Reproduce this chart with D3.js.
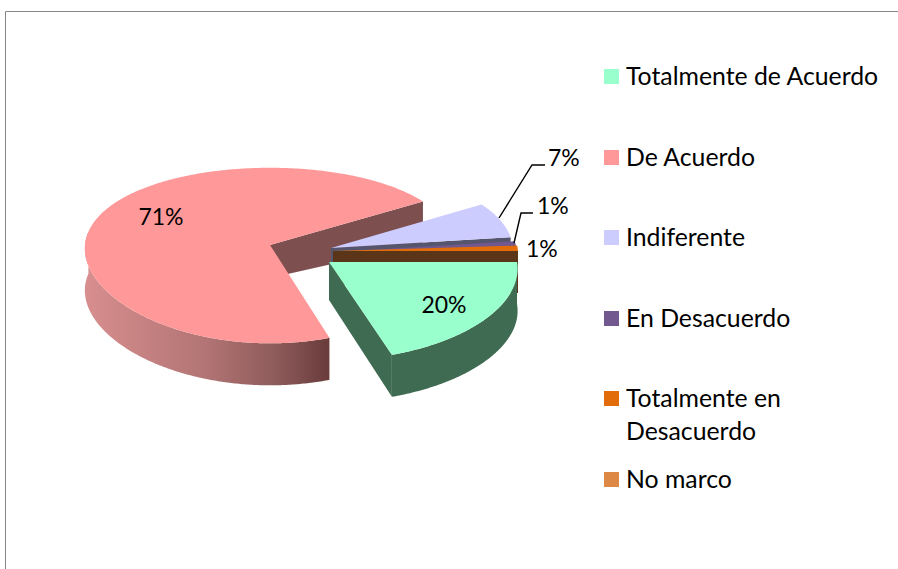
<!DOCTYPE html>
<html><head><meta charset="utf-8">
<script src="https://cdn.jsdelivr.net/npm/d3@7/dist/d3.min.js"></script>
<style>html,body{margin:0;padding:0;background:#fff}svg{display:block}text{font-family:Lato,sans-serif;fill:#000}.lg{font-size:24.8px}.dl{font-size:23px}</style>
</head><body>
<script>
const categories = ["Totalmente de Acuerdo","De Acuerdo","Indiferente","En Desacuerdo","Totalmente en Desacuerdo","No marco"];
const values = [20,71,7,1,1,0];
const colors = ["#99ffcc","#ff9999","#ccccff","#71588f","#e36c0a","#dd8844"];
const wallColors = ["#3f6b52","#7d4f4f","#55556e","#2e2a55","#5a3518","#5a3518"];
const legendLines = [["Totalmente de Acuerdo"],["De Acuerdo"],["Indiferente"],["En Desacuerdo"],["Totalmente en","Desacuerdo"],["No marco"]];

const W = 898, H = 569;
const svg = d3.select("body").append("svg").attr("width",W).attr("height",H);
const defs = svg.append("defs");
const grad = defs.append("linearGradient").attr("id","redSide").attr("gradientUnits","userSpaceOnUse")
  .attr("x1",85).attr("x2",328).attr("y1",0).attr("y2",0);
[[0,"#d88e8e"],[0.5,"#b27474"],[0.8,"#8c5959"],[1,"#6a3c3c"]].forEach(s=>grad.append("stop").attr("offset",s[0]).attr("stop-color",s[1]));

// frame
svg.append("path").attr("d",`M5.5,${H}V11.5H${W}`).attr("fill","none").attr("stroke","#868686").attr("stroke-width",1);

const arcs = d3.pie().value(d=>d).sort(null).startAngle(Math.PI/2).endAngle(Math.PI/2+2*Math.PI)(values);

// perspective projection of the disc; angle is clockwise from the top
const k = 0.12, ry = 86.5;
function project(L, r, a){
  const u = r*Math.sin(a), v = r*Math.cos(a);
  return [L.apex[0]+L.rx*u/(1+L.kx*v), L.apex[1]-ry*v/(1+k*v)];
}
const line = d3.line();
const angles = (a0,a1)=>{const n=Math.max(2,Math.ceil(Math.abs(a1-a0)/0.01));return d3.range(n+1).map(i=>a0+(a1-a0)*i/n);};

const layout = [
  {apex:[329,262],rx:188,kx:0.08,d0:38,d1:4},
  {apex:[270,245],rx:185,kx:0.04,d0:33,d1:9},
  {apex:[331,248],rx:182,kx:0.04,d0:33,d1:9},
  {apex:[333,252],rx:184,kx:0.04,d0:33,d1:9},
  {apex:[333,251],rx:185,kx:0.04,d0:33,d1:9},
  {apex:[333,251],rx:185,kx:0.04,d0:33,d1:9}
];
const drawOrder = [1,2,3,4,0];
const g = svg.append("g");

drawOrder.forEach(i=>{
  const s = arcs[i], L = layout[i];
  const P = (r,a)=>project(L,r,a);
  const low = (r,a)=>{const p=P(r,a);return [p[0],p[1]+L.d0+L.d1*r];};
  const cutWall = a => [P(0,a),P(1,a),low(1,a),low(0,a)];
  g.append("path").attr("d",line(cutWall(s.endAngle))+"Z").attr("fill",wallColors[i]);
  // outer rim wall on the part that faces the viewer
  const a0 = Math.max(s.startAngle,Math.PI/2), a1 = Math.min(s.endAngle,Math.PI*1.55);
  if(a1>a0){
    const as = angles(a0,a1);
    const pts = as.map(a=>P(1,a)).concat(as.slice().reverse().map(a=>low(1,a)));
    g.append("path").attr("d",line(pts)+"Z").attr("fill",i===1?"url(#redSide)":wallColors[i]);
  }
  // top face
  const top = [P(0,0)].concat(angles(s.startAngle,s.endAngle).map(a=>P(1,a)));
  g.append("path").attr("d",line(top)+"Z").attr("fill",colors[i]);
});

// data labels
const labelPos = [[444,313],[161,225],[548,166],[537,214],[526,257]];
const fmt = d3.format(".0f");
labelPos.forEach((p,i)=>{
  svg.append("text").attr("class","dl").attr("x",p[0]).attr("y",p[1])
    .attr("text-anchor",i<2?"middle":"start").text(fmt(values[i])+"%");
});

// leader lines
const leaders = [[[499,218],[532,165],[545,165]],[[514,243],[521,213],[533,213]]];
leaders.forEach(l=>svg.append("path").attr("d",line(l)).attr("fill","none").attr("stroke","#000").attr("stroke-width",1.4));

// legend
const legendTop = [69,150,230,311,391,472];
categories.forEach((c,i)=>{
  svg.append("rect").attr("x",604).attr("y",legendTop[i]).attr("width",15).attr("height",15).attr("fill",colors[i]);
  legendLines[i].forEach((t,j)=>{
    svg.append("text").attr("class","lg").attr("x",626).attr("y",legendTop[i]+16+j*33).text(t);
  });
});
</script>
</body></html>
